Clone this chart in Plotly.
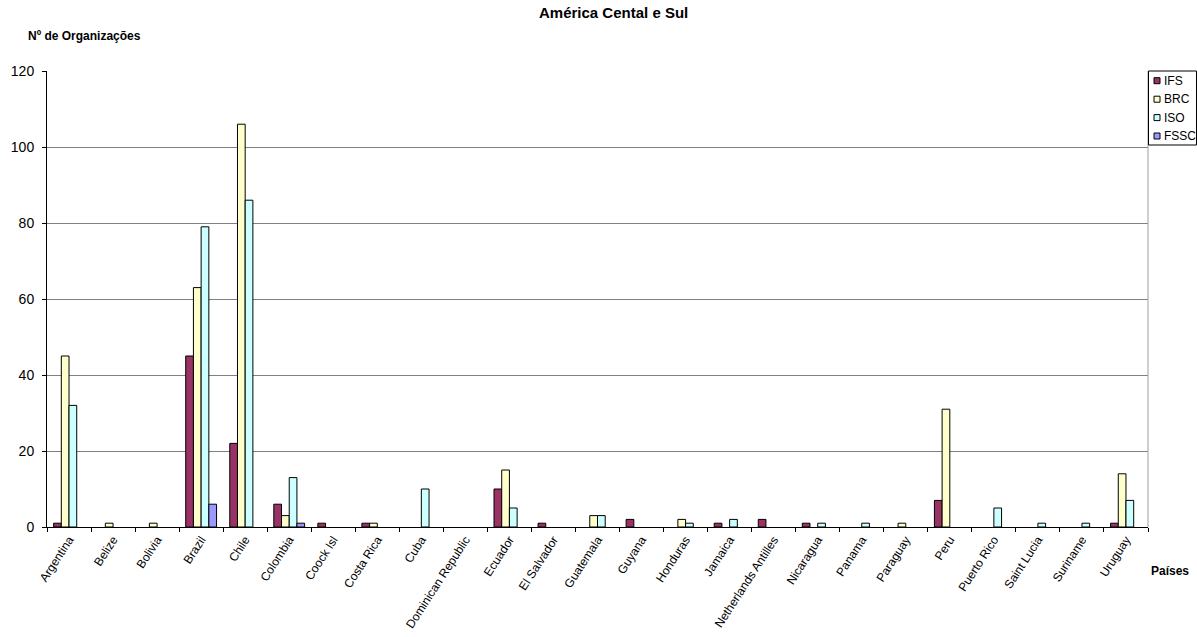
import plotly.graph_objects as go

countries = ["Argentina", "Belize", "Bolivia", "Brazil", "Chile", "Colombia", "Coock Isl",
             "Costa Rica", "Cuba", "Dominican Republic", "Ecuador", "El Salvador", "Guatemala",
             "Guyana", "Honduras", "Jamaica", "Netherlands Antilles", "Nicaragua", "Panama",
             "Paraguay", "Peru", "Puerto Rico", "Saint Lucia", "Suriname", "Uruguay"]
ifs  = [1, 0, 0, 45, 22, 6, 1, 1, 0, 0, 10, 1, 0, 2, 0, 1, 2, 1, 0, 0, 7, 0, 0, 0, 1]
brc  = [45, 1, 1, 63, 106, 3, 0, 1, 0, 0, 15, 0, 3, 0, 2, 0, 0, 0, 0, 1, 31, 0, 0, 0, 14]
iso  = [32, 0, 0, 79, 86, 13, 0, 0, 10, 0, 5, 0, 3, 0, 1, 2, 0, 1, 1, 0, 0, 5, 1, 1, 7]
fssc = [0, 0, 0, 6, 0, 1, 0, 0, 0, 0, 0, 0, 0, 0, 0, 0, 0, 0, 0, 0, 0, 0, 0, 0, 0]

series_names = ["IFS", "BRC", "ISO", "FSSC"]
series_values = [ifs, brc, iso, fssc]
series_colors = ["#993366", "#FFFFCC", "#CCFFFF", "#9999FF"]

FONT = "Liberation Sans, Arial, sans-serif"

# plot area in pixels (for placing texts / legend)
L, R, T, B = 47, 1148, 71, 527
W, H = 1197, 637
PW, PH = R - L, B - T


def px(x):
    return (x - L) / PW


def py(y):
    return (B - y) / PH


fig = go.Figure()
for name, vals, col in zip(series_names, series_values, series_colors):
    fig.add_trace(go.Bar(x=countries, y=[v if v else None for v in vals], name=name,
                         marker=dict(color=col, line=dict(color="black", width=1)),
                         showlegend=False))

shapes = [dict(type="line", xref="paper", yref="paper", x0=1, x1=1, y0=0, y1=1,
               line=dict(color="#A0A0A0", width=1))]
# custom legend box
shapes.append(dict(type="rect", xref="paper", yref="paper",
                   x0=px(1148.5), x1=px(1196.5), y0=py(145), y1=py(71),
                   line=dict(color="black", width=1), fillcolor="white", layer="above"))
annotations = [
    dict(text="<b>América Cental e Sul</b>", xref="paper", yref="paper",
         x=px(613), y=py(12), xanchor="center", yanchor="middle",
         showarrow=False, font=dict(size=15, family=FONT)),
    dict(text="<b>Nº de Organizações</b>", xref="paper", yref="paper",
         x=px(26), y=py(36), xanchor="left", yanchor="middle",
         showarrow=False, font=dict(size=12, family=FONT)),
    dict(text="<b>Países</b>", xref="paper", yref="paper",
         x=px(1149), y=py(571), xanchor="left", yanchor="middle",
         showarrow=False, font=dict(size=12, family=FONT)),
]
item_y = [80.7, 99.2, 117.6, 136.0]
for name, col, yc in zip(series_names, series_colors, item_y):
    shapes.append(dict(type="rect", xref="paper", yref="paper",
                       x0=px(1154), x1=px(1160), y0=py(yc + 3), y1=py(yc - 3),
                       line=dict(color="black", width=1), fillcolor=col, layer="above"))
    annotations.append(dict(text=name, xref="paper", yref="paper",
                            x=px(1161.5), y=py(yc), xanchor="left", yanchor="middle",
                            showarrow=False, font=dict(size=12, family=FONT)))

fig.update_layout(
    width=W, height=H,
    margin=dict(l=L, r=W - R, t=T, b=H - B),
    paper_bgcolor="white", plot_bgcolor="white",
    barmode="group", bargap=0.3, bargroupgap=0,
    font=dict(family=FONT, color="black", size=12),
    showlegend=False,
    xaxis=dict(type="category", tickson="boundaries", ticks="outside", ticklen=4,
               tickcolor="black", showline=True, linecolor="black", linewidth=1,
               tickangle=-57, tickfont=dict(size=12, family=FONT), showgrid=False,
               automargin=False),
    yaxis=dict(range=[0, 120], dtick=20, ticks="outside", ticklen=4, tickcolor="black",
               showline=True, linecolor="black", linewidth=1,
               showgrid=True, gridcolor="#808080", gridwidth=1,
               tickfont=dict(size=14, family=FONT), zeroline=False, automargin=False,
               ticklabelstandoff=5),
    shapes=shapes,
    annotations=annotations,
)

fig.write_html("out.html")
